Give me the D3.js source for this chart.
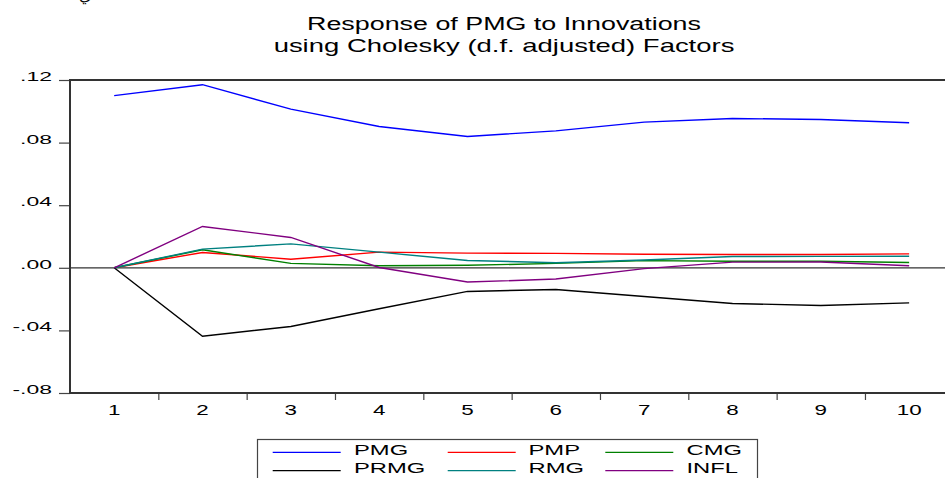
<!DOCTYPE html>
<html><head><meta charset="utf-8">
<script src="https://cdn.jsdelivr.net/npm/d3@7"></script>
<style>
html,body{margin:0;padding:0;background:#fff;}
svg{display:block;}
text{font-family:"Liberation Sans",Arial,sans-serif;fill:#000;}
</style></head>
<body>
<svg id="chart" width="945" height="478"></svg>
<script>
// ---- data ----
const periods = [1,2,3,4,5,6,7,8,9,10];
const seriesNames = ["PMG","PMP","CMG","PRMG","RMG","INFL"];
const PMG  = [0.1100, 0.1170, 0.1014, 0.0903, 0.0839, 0.0875, 0.0931, 0.0954, 0.0948, 0.0927];
const PMP  = [0.0000, 0.0098, 0.0055, 0.0100, 0.0094, 0.0092, 0.0087, 0.0085, 0.0085, 0.0089];
const CMG  = [0.0000, 0.0115, 0.0028, 0.0013, 0.0016, 0.0028, 0.0046, 0.0042, 0.0042, 0.0034];
const PRMG = [0.0000,-0.0437,-0.0375,-0.0262,-0.0151,-0.0139,-0.0183,-0.0228,-0.0241,-0.0224];
const RMG  = [0.0000, 0.0119, 0.0153, 0.0100, 0.0047, 0.0032, 0.0050, 0.0072, 0.0073, 0.0074];
const INFL = [0.0000, 0.0264, 0.0194, 0.0002,-0.0091,-0.0072,-0.0005, 0.0036, 0.0037, 0.0013];
const yTicks = [-0.08,-0.04,0.00,0.04,0.08,0.12];
const yTickLabels = ["-.08","-.04",".00",".04",".08",".12"];
const titleLines = ["Response of PMG to Innovations","using Cholesky (d.f. adjusted) Factors"];
const headerFragment = "ي";

const seriesValues = [PMG,PMP,CMG,PRMG,RMG,INFL];
const colors = {PMG:"#0000ff",PMP:"#ff0000",CMG:"#008000",PRMG:"#000000",RMG:"#008080",INFL:"#800080"};

// ---- layout ----
const svg = d3.select("#chart");
const L = 70, T = 80, B = 393, R = 953.3;
const x = d3.scaleBand().domain(periods).range([L, R]).padding(0);
const y = d3.scaleLinear().domain([-0.08, 0.12]).range([B, T]);

function stretchedText(g, str, px, py, size, sx, anchor){
  return g.append("text")
    .attr("transform", `translate(${px},${py}) scale(${sx},1)`)
    .attr("text-anchor", anchor)
    .style("font-size", size + "px")
    .text(str);
}

// header fragment (text cropped at the top edge, as in the source image)
svg.append("text").attr("x", 79).attr("y", 0)
  .style("font-family","DejaVu Sans").style("font-size","16px").text(headerFragment);

// title
const tg = svg.append("g");
[[titleLines[0], 29.5, 394],[titleLines[1], 51.5, 461]].forEach(([s, yy, w]) => {
  const t = stretchedText(tg, s, 504, yy, 17.5, 1, "middle");
  const len = t.node().getComputedTextLength();
  t.attr("transform", `translate(504,${yy}) scale(${w/len},1)`);
});

// zero line
svg.append("line").attr("x1", L).attr("x2", 945).attr("y1", y(0)).attr("y2", y(0))
  .attr("stroke", "#333").attr("stroke-width", 1.2);

// y axis ticks + labels
const yAxis = d3.axisLeft(y).tickValues(yTicks).tickSize(11).tickFormat("");
const ya = svg.append("g").attr("transform", `translate(${L},0)`).call(yAxis);
ya.select(".domain").remove();
ya.selectAll(".tick line").attr("stroke", "#444").attr("stroke-width", 1.2);
yTicks.forEach((v, i) => {
  stretchedText(svg, yTickLabels[i], 52, y(v) + 1, 13.5, 1.7, "end");
});

// x axis ticks (at band boundaries) + labels
const xb = d3.scaleLinear().domain([0, periods.length]).range([L, R]);
const xAxis = d3.axisBottom(xb).tickValues(d3.range(1, periods.length)).tickSize(7).tickFormat("");
const xa = svg.append("g").attr("transform", `translate(0,${B})`).call(xAxis);
xa.select(".domain").remove();
xa.selectAll(".tick line").attr("stroke", "#444").attr("stroke-width", 1.2);
periods.forEach(p => {
  stretchedText(svg, String(p), x(p) + x.bandwidth()/2, 415, 14, 1.6, "middle");
});

// series lines
const line = d3.line().x((d, i) => x(periods[i]) + x.bandwidth()/2).y(d => y(d));
seriesNames.forEach((name, k) => {
  svg.append("path").datum(seriesValues[k])
    .attr("fill", "none").attr("stroke", colors[name]).attr("stroke-width", 1.4)
    .attr("d", line);
});

// frame
svg.append("path")
  .attr("d", `M${R},${T}H${L}V${B}H${R}`)
  .attr("fill", "none").attr("stroke", "#333").attr("stroke-width", 2);

// legend
const lg = svg.append("g");
lg.append("rect").attr("x", 257.5).attr("y", 439.5).attr("width", 500).attr("height", 60)
  .attr("fill", "#fff").attr("stroke", "#444").attr("stroke-width", 1.2);
const colLine = [272.7, 447.7, 605.3];
const colText = [354, 528.5, 686.5];
const rowLine = [452.3, 470.7];
const rowText = [455, 473.3];
seriesNames.forEach((name, i) => {
  const c = i % 3, r = Math.floor(i / 3);
  lg.append("line").attr("x1", colLine[c]).attr("x2", colLine[c] + 68)
    .attr("y1", rowLine[r]).attr("y2", rowLine[r])
    .attr("stroke", colors[name]).attr("stroke-width", 1.3);
  stretchedText(lg, name, colText[c], rowText[r], 14, 1.7, "start");
});
</script>
</body></html>
